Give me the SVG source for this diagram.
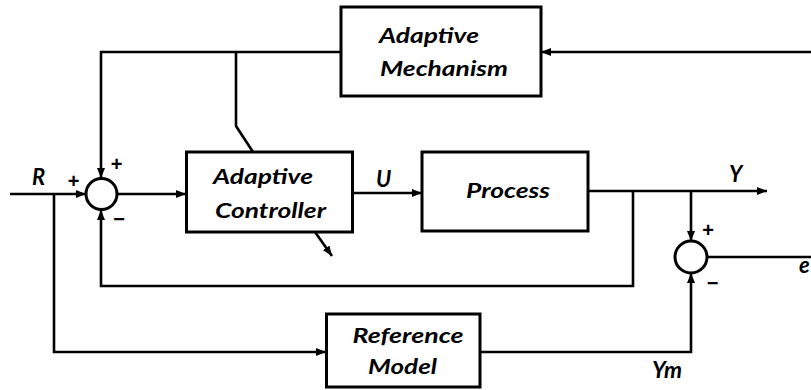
<svg xmlns="http://www.w3.org/2000/svg" width="811" height="390" viewBox="0 0 811 390">
  <style>
    .box { fill: #fff; stroke: #000; stroke-width: 3; }
    .sum { fill: #fff; stroke: #000; stroke-width: 3; }
    .wire { fill: none; stroke: #000; stroke-width: 2.6; stroke-linejoin: miter; }
    .lbl { font-family: Lato, "Open Sans", "Liberation Sans", sans-serif; font-weight: bold; font-style: italic; font-size: 21px; fill: #000; }
    .sym { font-size: 22px; }
    .sign { font-family: "Liberation Sans", Arial, sans-serif; font-weight: bold; font-size: 20px; fill: #000; text-anchor: middle; }
  </style>
  <defs>
    <marker id="arrow" viewBox="0 0 10 8" refX="10" refY="4" markerWidth="10" markerHeight="8" markerUnits="userSpaceOnUse" orient="auto">
      <path d="M0,0 L10,4 L0,8 Z" fill="#000"/>
    </marker>
  </defs>

  <rect width="811" height="390" fill="#fff"/>

  <g id="connectors">
    <!-- reference input into the first summing junction -->
    <path class="wire" d="M10,194 H86" marker-end="url(#arrow)"/>
    <!-- reference branch to the reference model -->
    <path class="wire" d="M54,194 V352 H326" marker-end="url(#arrow)"/>
    <!-- junction to controller -->
    <path class="wire" d="M117,194 H186" marker-end="url(#arrow)"/>
    <!-- adaptation signal down into the junction -->
    <path class="wire" d="M341,52 H101 V178" marker-end="url(#arrow)"/>
    <!-- adaptation link to the controller -->
    <path class="wire" d="M236,52 V126 L253,152"/>
    <!-- error fed back into the mechanism -->
    <path class="wire" d="M811,52 H541" marker-end="url(#arrow)"/>
    <!-- control signal U -->
    <path class="wire" d="M352,193 H422" marker-end="url(#arrow)"/>
    <!-- process output Y -->
    <path class="wire" d="M588,191 H767" marker-end="url(#arrow)"/>
    <!-- output feedback to the first junction -->
    <path class="wire" d="M633,191 V286 H101 V210" marker-end="url(#arrow)"/>
    <!-- output into error junction -->
    <path class="wire" d="M691,191 V241" marker-end="url(#arrow)"/>
    <!-- model output Ym into error junction -->
    <path class="wire" d="M480,352 H691 V273" marker-end="url(#arrow)"/>
    <!-- error e -->
    <path class="wire" d="M707,257 H811"/>
    <!-- controller parameter arrow -->
    <path class="wire" d="M315,232 L332,256" marker-end="url(#arrow)"/>
  </g>

  <g id="sum1">
    <circle class="sum" cx="101.5" cy="194" r="15.5"/>
    <text class="sign" x="73.5" y="188">+</text>
    <text class="sign" x="116.5" y="171">+</text>
    <text class="sign" x="119" y="226">−</text>
  </g>

  <g id="sum2">
    <circle class="sum" cx="691" cy="257" r="16"/>
    <text class="sign" x="708" y="237">+</text>
    <text class="sign" x="712.5" y="290">−</text>
  </g>

  <g id="adaptive-mechanism">
    <rect class="box" x="341" y="7" width="200" height="89"/>
    <text class="lbl" x="379" y="43" textLength="100" lengthAdjust="spacingAndGlyphs">Adaptive</text>
    <text class="lbl" x="380" y="76" textLength="128" lengthAdjust="spacingAndGlyphs">Mechanism</text>
  </g>

  <g id="adaptive-controller">
    <rect class="box" x="186.5" y="152" width="166" height="80"/>
    <text class="lbl" x="213" y="184" textLength="100" lengthAdjust="spacingAndGlyphs">Adaptive</text>
    <text class="lbl" x="215" y="217.5" textLength="111" lengthAdjust="spacingAndGlyphs">Controller</text>
  </g>

  <g id="process">
    <rect class="box" x="422" y="152" width="166" height="79"/>
    <text class="lbl" x="466" y="198" textLength="84" lengthAdjust="spacingAndGlyphs">Process</text>
  </g>

  <g id="reference-model">
    <rect class="box" x="326.5" y="314" width="153.5" height="73"/>
    <text class="lbl" x="352.5" y="343" textLength="111" lengthAdjust="spacingAndGlyphs">Reference</text>
    <text class="lbl" x="368" y="374" textLength="69" lengthAdjust="spacingAndGlyphs">Model</text>
  </g>

  <g id="signal-labels">
    <text class="lbl sym" x="32" y="185">R</text>
    <text class="lbl sym" x="376" y="187">U</text>
    <text class="lbl sym" x="729" y="182">Y</text>
    <text class="lbl sym" x="652" y="378" textLength="30" lengthAdjust="spacingAndGlyphs">Ym</text>
    <text class="lbl sym" x="799" y="273">e</text>
  </g>
</svg>
